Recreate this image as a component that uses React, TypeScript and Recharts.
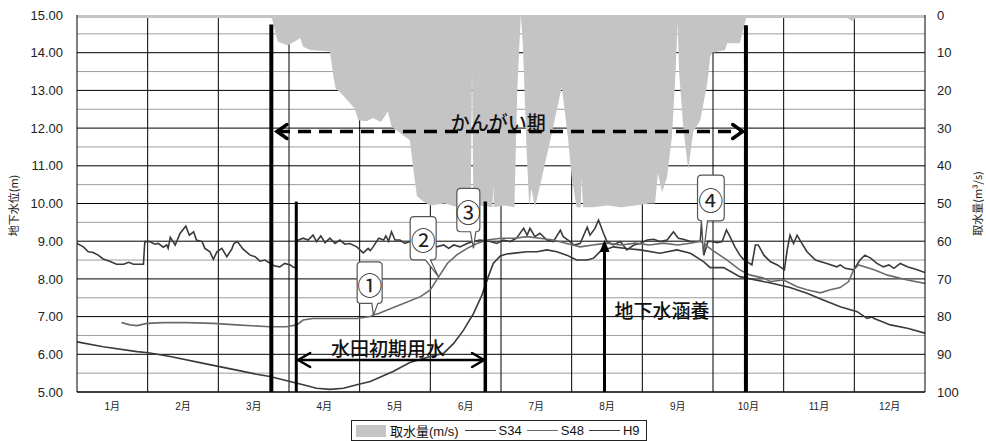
import React from 'react';
import {
  ComposedChart,
  Area,
  Line,
  XAxis,
  YAxis,
  CartesianGrid,
  ReferenceLine,
  ReferenceDot,
  Legend,
} from 'recharts';

// x positions are in months from 1 Jan (0) to 31 Dec (12)
const MONTHS = ['1月', '2月', '3月', '4月', '5月', '6月', '7月', '8月', '9月', '10月', '11月', '12月'];
const MONTH_MID = [0.5, 1.5, 2.5, 3.5, 4.5, 5.5, 6.5, 7.5, 8.5, 9.5, 10.5, 11.5];
const MONTH_EDGES = [1, 2, 3, 4, 5, 6, 7, 8, 9, 10, 11];
const LEVEL_TICKS = [5, 6, 7, 8, 9, 10, 11, 12, 13, 14, 15];
const LEVEL_GRID = [5, 6, 7, 8, 9, 10, 11, 12, 13, 14];
const LEVEL_HALF = [5.5, 6.5, 7.5, 8.5, 9.5, 10.5, 11.5, 12.5, 13.5, 14.5];
const INTAKE_TICKS = [0, 10, 20, 30, 40, 50, 60, 70, 80, 90, 100];

// 取水量 (m3/s), plotted on the reversed right axis
const intake: [number, number][] = [
  [0, 0.8], [1, 0.8], [2, 0.8], [2.74, 0.8], [2.76, 1], [2.8, 4], [2.84, 7.1], [2.89, 7.4],
  [2.98, 8], [3.06, 7.2], [3.16, 6.2], [3.2, 8.4], [3.3, 9.3], [3.58, 9.7], [3.63, 16.5],
  [3.66, 19.5], [3.75, 21], [3.82, 22.5], [3.93, 24.8], [3.98, 27.9], [4.1, 28.2], [4.19, 27.3],
  [4.3, 28.4], [4.4, 25.6], [4.45, 29.6], [4.61, 31.8], [4.71, 33.2], [4.76, 41], [4.81, 48],
  [4.9, 49.5], [5.0, 50.5], [5.2, 50], [5.4, 51], [5.57, 51], [5.59, 15], [5.61, 51],
  [5.7, 50.5], [5.88, 51], [5.89, 45], [5.9, 51], [6.05, 50.5], [6.19, 51], [6.23, 20],
  [6.28, 0], [6.31, 8], [6.36, 35], [6.4, 51], [6.43, 46], [6.48, 51], [6.58, 43], [6.7, 33],
  [6.86, 19], [6.95, 33], [7.0, 43], [7.07, 51], [7.13, 51], [7.14, 43], [7.16, 51],
  [7.3, 51], [7.5, 50.5], [7.7, 51], [7.9, 50.5], [8.1, 50], [8.18, 50], [8.22, 42],
  [8.28, 47], [8.35, 43], [8.42, 32], [8.47, 15], [8.5, 2], [8.52, 15], [8.58, 30], [8.65, 41],
  [8.72, 31], [8.82, 28], [8.92, 18], [8.96, 11], [8.99, 10], [9.17, 9.3], [9.2, 7.5],
  [9.38, 7.5], [9.44, 3], [9.47, 0.8], [10, 0.8], [10.9, 0.8], [10.97, 1.6], [11.03, 0.8],
  [12, 0.8],
];

// 地下水位 (m)
const s34Level: [number, number][] = [
  [0, 8.94], [0.09, 8.85], [0.16, 8.72], [0.23, 8.7], [0.3, 8.63], [0.37, 8.53], [0.47, 8.46],
  [0.56, 8.39], [0.66, 8.39], [0.73, 8.44], [0.8, 8.39], [0.94, 8.39], [0.96, 8.99], [1.03, 8.99],
  [1.1, 8.92], [1.15, 8.94], [1.22, 8.84], [1.27, 8.9], [1.29, 8.81], [1.32, 9.1], [1.39, 8.9],
  [1.46, 9.21], [1.54, 9.4], [1.59, 9.16], [1.65, 9.25], [1.69, 9.03], [1.77, 8.99], [1.81, 8.81],
  [1.88, 8.72], [1.93, 8.52], [1.98, 8.72], [2.05, 8.81], [2.12, 8.59], [2.19, 8.79], [2.22, 8.94],
  [2.27, 8.99], [2.35, 8.79], [2.45, 8.63], [2.52, 8.59], [2.59, 8.47], [2.66, 8.5], [2.71, 8.44],
  [2.8, 8.34], [2.87, 8.32], [2.94, 8.41], [3.02, 8.37], [3.06, 8.31], [3.09, 8.3], [3.11, 9.01],
  [3.2, 9.08], [3.27, 9.03], [3.34, 9.16], [3.39, 8.99], [3.45, 9.14], [3.51, 8.96], [3.58, 9.08],
  [3.65, 8.94], [3.72, 9.03], [3.79, 8.92], [3.86, 8.94], [3.96, 8.85], [4.05, 8.69], [4.12, 8.81],
  [4.15, 8.75], [4.19, 8.85], [4.27, 9.08], [4.34, 9.03], [4.37, 9.14], [4.41, 9.0], [4.45, 9.25],
  [4.5, 9.03], [4.57, 9.03], [4.64, 8.94], [4.71, 8.99], [4.8, 8.95], [4.9, 9.0], [5.0, 8.92],
  [5.09, 8.85], [5.19, 8.9], [5.26, 8.81], [5.33, 8.9], [5.42, 8.85], [5.52, 8.94], [5.61, 8.99],
  [5.7, 9.03], [5.85, 8.99], [5.94, 8.94], [6.03, 9.03], [6.13, 8.99], [6.22, 9.08], [6.32, 9.34],
  [6.37, 9.16], [6.41, 9.34], [6.48, 9.12], [6.55, 9.21], [6.65, 9.03], [6.74, 8.99], [6.84, 9.29],
  [6.88, 9.12], [6.95, 9.03], [7.03, 8.9], [7.12, 8.94], [7.22, 9.37], [7.26, 9.16], [7.33, 9.34],
  [7.38, 9.56], [7.45, 9.21], [7.5, 8.99], [7.59, 8.9], [7.69, 8.99], [7.78, 8.77], [7.88, 8.9],
  [7.97, 8.94], [8.07, 9.03], [8.16, 9.05], [8.25, 8.99], [8.35, 9.03], [8.44, 9.25], [8.51, 9.08],
  [8.58, 9.05], [8.68, 8.99], [8.75, 8.99], [8.82, 9.0], [8.84, 9.56], [8.87, 8.63], [8.93, 9.0],
  [8.98, 8.99], [9.06, 8.96], [9.13, 8.99], [9.19, 9.3], [9.24, 9.12], [9.31, 8.85], [9.38, 8.63],
  [9.43, 8.52], [9.48, 8.46], [9.55, 8.37], [9.6, 8.9], [9.64, 8.9], [9.72, 8.63], [9.81, 8.46],
  [9.91, 8.37], [10.01, 8.24], [10.05, 8.77], [10.09, 9.16], [10.14, 8.94], [10.19, 9.16],
  [10.23, 9.03], [10.33, 8.72], [10.45, 8.5], [10.61, 8.41], [10.75, 8.32], [10.8, 8.37],
  [10.87, 8.28], [10.99, 8.24], [11.08, 8.5], [11.15, 8.63], [11.23, 8.55], [11.32, 8.41],
  [11.41, 8.32], [11.49, 8.37], [11.56, 8.28], [11.65, 8.41], [11.75, 8.32], [11.89, 8.24],
  [12, 8.17],
];

const s48Level: [number, number][] = [
  [0.63, 6.84], [0.75, 6.78], [0.85, 6.76], [0.99, 6.82], [1.22, 6.84], [1.55, 6.84], [1.93, 6.82],
  [2.26, 6.78], [2.73, 6.73], [2.96, 6.73], [3.11, 6.78], [3.2, 6.91], [3.34, 6.95], [3.68, 6.95],
  [3.96, 6.95], [4.15, 7.0], [4.19, 7.04], [4.27, 7.08], [4.45, 7.22], [4.62, 7.35], [4.86, 7.53],
  [5.0, 7.71], [5.12, 8.06], [5.24, 8.41], [5.37, 8.63], [5.52, 8.81], [5.66, 8.94], [5.8, 9.03],
  [6.0, 9.08], [6.19, 9.08], [6.37, 9.12], [6.55, 9.08], [6.74, 9.03], [6.93, 8.94], [7.12, 8.85],
  [7.3, 8.9], [7.5, 8.95], [7.7, 8.9], [7.9, 8.95], [8.1, 8.9], [8.3, 8.95], [8.5, 8.9],
  [8.7, 8.95], [8.82, 9.0], [9.0, 8.75], [9.2, 8.5], [9.38, 8.24], [9.53, 8.1], [9.72, 8.02],
  [9.81, 7.93], [10.0, 7.97], [10.19, 7.79], [10.33, 7.71], [10.52, 7.63], [10.66, 7.71],
  [10.8, 7.77], [10.92, 7.93], [10.99, 8.24], [11.06, 8.37], [11.28, 8.24], [11.47, 8.1],
  [11.75, 7.97], [12, 7.88],
];

const h9Level: [number, number][] = [
  [0, 6.33], [0.37, 6.2], [0.85, 6.07], [1.01, 6.04], [1.32, 5.94], [1.79, 5.76], [2.26, 5.58],
  [2.54, 5.47], [2.73, 5.41], [2.97, 5.3], [3.2, 5.19], [3.39, 5.1], [3.58, 5.07], [3.77, 5.1],
  [3.96, 5.19], [4.15, 5.28], [4.48, 5.55], [4.71, 5.78], [5.0, 5.94], [5.19, 6.03], [5.33, 6.29],
  [5.47, 6.64], [5.61, 7.08], [5.73, 7.57], [5.82, 8.06], [5.89, 8.41], [5.99, 8.61], [6.08, 8.66],
  [6.22, 8.69], [6.37, 8.72], [6.51, 8.72], [6.65, 8.77], [6.79, 8.72], [6.93, 8.63], [7.07, 8.5],
  [7.22, 8.5], [7.31, 8.55], [7.4, 8.72], [7.59, 8.85], [7.8, 8.8], [7.97, 8.77], [8.25, 8.68],
  [8.49, 8.77], [8.68, 8.68], [8.87, 8.45], [8.96, 8.3], [9.15, 8.3], [9.38, 8.06], [9.6, 7.97],
  [9.85, 7.88], [10.09, 7.77], [10.33, 7.62], [10.56, 7.44], [10.8, 7.26], [11.04, 7.13],
  [11.18, 6.95], [11.25, 6.99], [11.28, 6.95], [11.51, 6.78], [11.75, 6.69], [12, 6.56],
];

const INTAKE_NAME = '取水量(m/s)';
const LEGEND_ORDER = [INTAKE_NAME, 'S34', 'S48', 'H9'];

const FONT = "'Liberation Sans', Arial, 'Noto Sans CJK JP', sans-serif";
const CJK = "'Noto Sans CJK JP', sans-serif";

const toRows = (pts: [number, number][]) => pts.map(([m, v]) => ({ m, v }));

type Head = 'open' | 'solid' | undefined;

// reference line drawn with arrow heads at either end
const arrowLine =
  (opts: { width: number; dash?: string; start?: Head; end?: Head; len: number; half: number }) =>
  (p: any) => {
    const { x1, y1, x2, y2 } = p;
    const d = Math.hypot(x2 - x1, y2 - y1) || 1;
    const ux = (x2 - x1) / d;
    const uy = (y2 - y1) / d;
    const nx = -uy;
    const ny = ux;
    const head = (tx: number, ty: number, dir: number, kind: Head) => {
      const bx = tx - dir * ux * opts.len;
      const by = ty - dir * uy * opts.len;
      const pts = `${bx + nx * opts.half},${by + ny * opts.half} ${tx},${ty} ${bx - nx * opts.half},${by - ny * opts.half}`;
      if (kind === 'solid') return <polygon points={pts} fill="#000" />;
      return <polyline points={pts} fill="none" stroke="#000" strokeWidth={opts.width} strokeLinecap="round" />;
    };
    const sx = opts.start === 'solid' ? x1 + ux * opts.len * 0.8 : x1;
    const sy = opts.start === 'solid' ? y1 + uy * opts.len * 0.8 : y1;
    const ex = opts.end === 'solid' ? x2 - ux * opts.len * 0.8 : x2;
    const ey = opts.end === 'solid' ? y2 - uy * opts.len * 0.8 : y2;
    return (
      <g>
        <line x1={sx} y1={sy} x2={ex} y2={ey} stroke="#000" strokeWidth={opts.width} strokeDasharray={opts.dash} />
        {opts.start && head(x1, y1, -1, opts.start)}
        {opts.end && head(x2, y2, 1, opts.end)}
      </g>
    );
  };

const textMark = (text: string, size: number) => (p: any) => (
  <text
    x={p.cx}
    y={p.cy}
    textAnchor="middle"
    dominantBaseline="central"
    fontSize={size}
    fontWeight={500}
    fontFamily={CJK}
    fill="#111"
  >
    {text}
  </text>
);

// rounded balloon whose tail ends on the dot position
const callout =
  (label: string, dx: number, lift: number, w: number, h: number, base: [number, number]) =>
  (p: any) => {
    const { cx, cy } = p;
    const l = cx + dx;
    const r = l + w;
    const b = cy - lift;
    const t = b - h;
    const rr = 4;
    const d = [
      `M${l + rr},${t}`,
      `H${r - rr}`,
      `Q${r},${t} ${r},${t + rr}`,
      `V${b - rr}`,
      `Q${r},${b} ${r - rr},${b}`,
      `H${cx + base[1]}`,
      `L${cx},${cy}`,
      `L${cx + base[0]},${b}`,
      `H${l + rr}`,
      `Q${l},${b} ${l},${b - rr}`,
      `V${t + rr}`,
      `Q${l},${t} ${l + rr},${t}`,
      'Z',
    ].join(' ');
    return (
      <g>
        <path d={d} fill="#fff" stroke="#555" strokeWidth={1.2} />
        <text
          x={l + w / 2}
          y={t + h / 2 + 1}
          textAnchor="middle"
          dominantBaseline="central"
          fontSize={25}
          fontFamily={CJK}
          fill="#222"
        >
          {label}
        </text>
      </g>
    );
  };

const levelTitle = ({ viewBox }: any) => {
  const x = viewBox.x + 13;
  const y = viewBox.y + viewBox.height / 2 + 2;
  return (
    <text x={x} y={y} transform={`rotate(-90 ${x} ${y})`} textAnchor="middle" dominantBaseline="central" fontSize={11} fontFamily={CJK} fill="#222">
      地下水位(m)
    </text>
  );
};

const intakeTitle = ({ viewBox }: any) => {
  const x = viewBox.x + 52;
  const y = viewBox.y + viewBox.height / 2;
  return (
    <text x={x} y={y} transform={`rotate(-90 ${x} ${y})`} textAnchor="middle" dominantBaseline="central" fontSize={11} fontFamily={CJK} fill="#222">
      取水量(m³/s)
    </text>
  );
};

const renderLegend = ({ payload }: any) => {
  const items = [...(payload || [])].sort(
    (a: any, b: any) => LEGEND_ORDER.indexOf(a.value) - LEGEND_ORDER.indexOf(b.value)
  );
  return (
    <div
      style={{
        display: 'flex',
        alignItems: 'center',
        height: 21,
        boxSizing: 'border-box',
        border: '1px solid #222',
        padding: '0 4px',
        fontFamily: FONT,
        fontSize: 13,
        color: '#111',
        background: '#fff',
        whiteSpace: 'nowrap',
      }}
    >
      {items.map((e: any) =>
        e.type === 'rect' ? (
          <span key={e.value} style={{ display: 'flex', alignItems: 'center', marginRight: 6 }}>
            <span style={{ width: 30, height: 12, background: e.color, marginRight: 4 }} />
            {e.value}
          </span>
        ) : (
          <span key={e.value} style={{ display: 'flex', alignItems: 'center', marginRight: 5 }}>
            <span style={{ width: 31, height: 0, borderTop: `1.5px solid ${e.color}`, marginRight: 3 }} />
            {e.value}
          </span>
        )
      )}
    </div>
  );
};

export default function App() {
  return (
    <div style={{ position: 'absolute', left: 0, top: 0, width: 986, height: 441, background: '#fff' }}>
      <ComposedChart width={986} height={441} margin={{ top: 15, right: 0, bottom: 0, left: 0 }}>
        <CartesianGrid horizontalValues={LEVEL_HALF} vertical={false} stroke="#9c9c9c" strokeWidth={1} />
        <CartesianGrid horizontalValues={LEVEL_GRID} verticalValues={MONTH_EDGES} stroke="#000" strokeWidth={1} />
        <XAxis
          type="number"
          dataKey="m"
          domain={[0, 12]}
          ticks={MONTH_MID}
          interval={0}
          allowDataOverflow
          tickFormatter={(v: number) => MONTHS[Math.floor(v)] ?? ''}
          tickLine={false}
          axisLine={{ stroke: '#000' }}
          tick={{ fontSize: 10, fill: '#222', fontFamily: FONT }}
          tickMargin={5}
          height={49}
        />
        <YAxis
          domain={[5, 15]}
          ticks={LEVEL_TICKS}
          interval={0}
          allowDataOverflow
          tickFormatter={(v: number) => v.toFixed(2)}
          tickLine={false}
          axisLine={{ stroke: '#000' }}
          tick={{ fontSize: 13, fill: '#222', fontFamily: FONT }}
          tickMargin={8}
          width={77}
          label={levelTitle}
        />
        <YAxis
          yAxisId="q"
          orientation="right"
          reversed
          domain={[0, 100]}
          ticks={INTAKE_TICKS}
          interval={0}
          tickLine={false}
          axisLine={{ stroke: '#000' }}
          tick={{ fontSize: 13, fill: '#222', fontFamily: FONT }}
          tickMargin={6}
          width={61}
          label={intakeTitle}
        />
        <Area
          yAxisId="q"
          data={toRows(intake)}
          dataKey="v"
          name={INTAKE_NAME}
          type="linear"
          stroke="none"
          fill="#c4c4c4"
          fillOpacity={1}
          legendType="rect"
          isAnimationActive={false}
        />
        <Line data={toRows(s34Level)} dataKey="v" name="S34" type="linear" stroke="#3a3a3a" strokeWidth={1.6} dot={false} isAnimationActive={false} />
        <Line data={toRows(s48Level)} dataKey="v" name="S48" type="linear" stroke="#6a6a6a" strokeWidth={1.6} dot={false} isAnimationActive={false} />
        <Line data={toRows(h9Level)} dataKey="v" name="H9" type="linear" stroke="#3a3a3a" strokeWidth={1.6} dot={false} isAnimationActive={false} />

        {/* かんがい期 boundaries */}
        <ReferenceLine segment={[{ x: 2.75, y: 14.75 }, { x: 2.75, y: 5 }]} stroke="#000" strokeWidth={4} />
        <ReferenceLine segment={[{ x: 9.466, y: 14.73 }, { x: 9.466, y: 5 }]} stroke="#000" strokeWidth={4} />
        {/* 水田初期用水 boundaries */}
        <ReferenceLine segment={[{ x: 3.103, y: 10.05 }, { x: 3.103, y: 5 }]} stroke="#000" strokeWidth={3} />
        <ReferenceLine segment={[{ x: 5.778, y: 10.05 }, { x: 5.778, y: 5 }]} stroke="#000" strokeWidth={3.5} />

        <ReferenceLine
          segment={[{ x: 2.83, y: 11.91 }, { x: 9.42, y: 11.91 }]}
          shape={arrowLine({ width: 3.5, dash: '13 8', start: 'open', end: 'open', len: 10, half: 7 })}
        />
        <ReferenceLine
          segment={[{ x: 3.13, y: 5.85 }, { x: 5.76, y: 5.85 }]}
          shape={arrowLine({ width: 2.5, start: 'open', end: 'open', len: 12, half: 7 })}
        />
        <ReferenceLine
          segment={[{ x: 7.465, y: 5 }, { x: 7.465, y: 9.03 }]}
          shape={arrowLine({ width: 3, end: 'solid', len: 12, half: 5 })}
        />

        <ReferenceDot x={5.96} y={12.18} r={1} shape={textMark('かんがい期', 19)} />
        <ReferenceDot x={4.4} y={6.17} r={1} shape={textMark('水田初期用水', 19)} />
        <ReferenceDot x={8.28} y={7.18} r={1} shape={textMark('地下水涵養', 19)} />

        <ReferenceDot x={4.195} y={7.04} r={1} shape={callout('①', -16.3, 11.7, 25, 41.6, [-1.6, 4.5])} />
        <ReferenceDot x={5.115} y={8.06} r={1} shape={callout('②', -28.3, 16.7, 26, 43.3, [-13, -8])} />
        <ReferenceDot x={5.61} y={8.81} r={1} shape={callout('③', -16.6, 16.6, 23, 43.4, [-3, 2.4])} />
        <ReferenceDot x={8.866} y={8.68} r={1} shape={callout('④', -6, 32.4, 26.7, 45.7, [-2, 4])} />

        <Legend
          layout="horizontal"
          verticalAlign="middle"
          align="center"
          content={renderLegend}
          wrapperStyle={{ left: 351, top: 420, width: 296, height: 21 }}
        />
      </ComposedChart>
    </div>
  );
}
